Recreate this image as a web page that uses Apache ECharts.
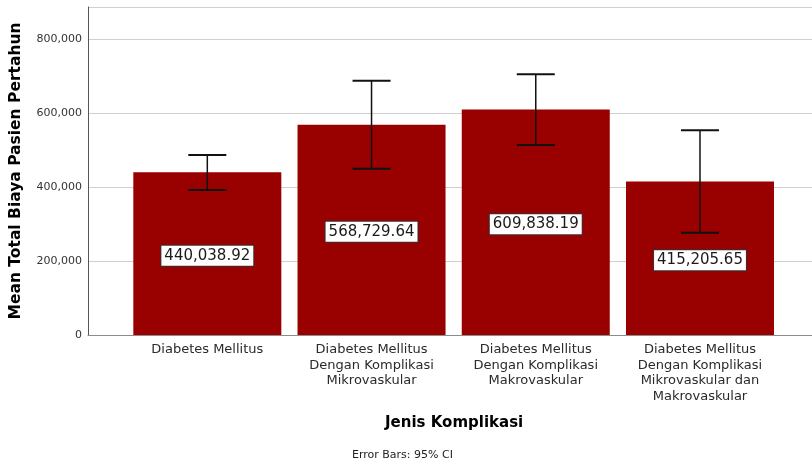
<!DOCTYPE html>
<html>
<head>
<meta charset="utf-8">
<script src="https://cdn.jsdelivr.net/npm/echarts@6/dist/echarts.min.js"></script>
<style>html,body{margin:0;padding:0;background:#fff}#c{width:812px;height:465px}</style>
</head>
<body>
<div id="c"></div>
<script>
var categories = [
  'Diabetes Mellitus',
  'Diabetes Mellitus\nDengan Komplikasi\nMikrovaskular',
  'Diabetes Mellitus\nDengan Komplikasi\nMakrovaskular',
  'Diabetes Mellitus\nDengan Komplikasi\nMikrovaskular dan\nMakrovaskular'
];
var means = [440038.92, 568729.64, 609838.19, 415205.65];
var ciLow = [392200, 449800, 513900, 276700];
var ciHigh = [486800, 687800, 705100, 553600];
var yMax = 887000;

var chart = echarts.init(document.getElementById('c'), null, {renderer: 'canvas'});
var font = 'DejaVu Sans';
var option = {
  animation: false,
  backgroundColor: '#fff',
  textStyle: {fontFamily: font},
  grid: [
    {left: 88, right: 0, top: 7, bottom: 130, containLabel: false, outerBoundsMode: 'none'},
    {left: 125.2, right: 29.9, top: 7, bottom: 130, containLabel: false, outerBoundsMode: 'none'}
  ],
  xAxis: [
    {gridIndex: 0, type: 'value', min: 0, max: 1, show: true,
     axisLine: {show: true, lineStyle: {color: '#8c8c8c', width: 1}},
     axisTick: {show: false}, axisLabel: {show: false}, splitLine: {show: false}},
    {gridIndex: 1, type: 'category', data: categories,
     axisLine: {show: false}, axisTick: {show: false},
     axisLabel: {interval: 0, color: '#2a2a2a', fontSize: 13, lineHeight: 15.5, margin: 7, fontFamily: font}}
  ],
  yAxis: [
    {gridIndex: 0, type: 'value', min: 0, max: yMax, interval: 200000,
     name: 'Mean Total Biaya Pasien Pertahun', nameLocation: 'middle', nameGap: 64,
     nameTextStyle: {fontSize: 15.5, fontWeight: 'bold', color: '#000', fontFamily: font},
     axisLine: {show: true, lineStyle: {color: '#555', width: 1}},
     axisTick: {show: false},
     axisLabel: {color: '#333', fontSize: 11, margin: 6, fontFamily: font, showMaxLabel: false,
       formatter: function (v) { return v === 0 ? '0' : v.toLocaleString('en-US'); }},
     splitLine: {show: true, lineStyle: {color: '#cfcfcf', width: 1}}},
    {gridIndex: 1, type: 'value', min: 0, max: yMax, show: false}
  ],
  graphic: [
    {type: 'text', left: 385, top: 416, style: {text: 'Jenis Komplikasi', font: 'bold 15px "DejaVu Sans"', fill: '#000'}},
    {type: 'text', left: 352, top: 450, style: {text: 'Error Bars: 95% CI', font: '11px "DejaVu Sans"', fill: '#222'}}
  ],
  series: [
    {type: 'bar', xAxisIndex: 1, yAxisIndex: 1, data: means, barWidth: 148,
     itemStyle: {color: '#990000'},
     label: {show: true, position: 'inside', offset: [0, 2], color: '#1a1a1a', fontSize: 15, fontFamily: font,
       backgroundColor: '#fff', borderColor: '#333', borderWidth: 1, padding: [3, 3, 2, 3],
       formatter: function (p) { return p.value.toLocaleString('en-US', {minimumFractionDigits: 2, maximumFractionDigits: 2}); }}},
    {type: 'custom', xAxisIndex: 1, yAxisIndex: 1, z: 10,
     data: categories.map(function (c, i) { return [i, ciLow[i], ciHigh[i]]; }),
     renderItem: function (params, api) {
       var lo = api.coord([api.value(0), api.value(1)]);
       var hi = api.coord([api.value(0), api.value(2)]);
       var hw = 19;
       var st = {stroke: '#111', lineWidth: 1.5};
       return {type: 'group', children: [
         {type: 'line', shape: {x1: hi[0], y1: hi[1], x2: lo[0], y2: lo[1]}, style: st},
         {type: 'line', shape: {x1: hi[0] - hw, y1: hi[1], x2: hi[0] + hw, y2: hi[1]}, style: {stroke: '#111', lineWidth: 2}},
         {type: 'line', shape: {x1: lo[0] - hw, y1: lo[1], x2: lo[0] + hw, y2: lo[1]}, style: {stroke: '#111', lineWidth: 2}}
       ]};
     }}
  ]
};
chart.setOption(option);
</script>
</body>
</html>
